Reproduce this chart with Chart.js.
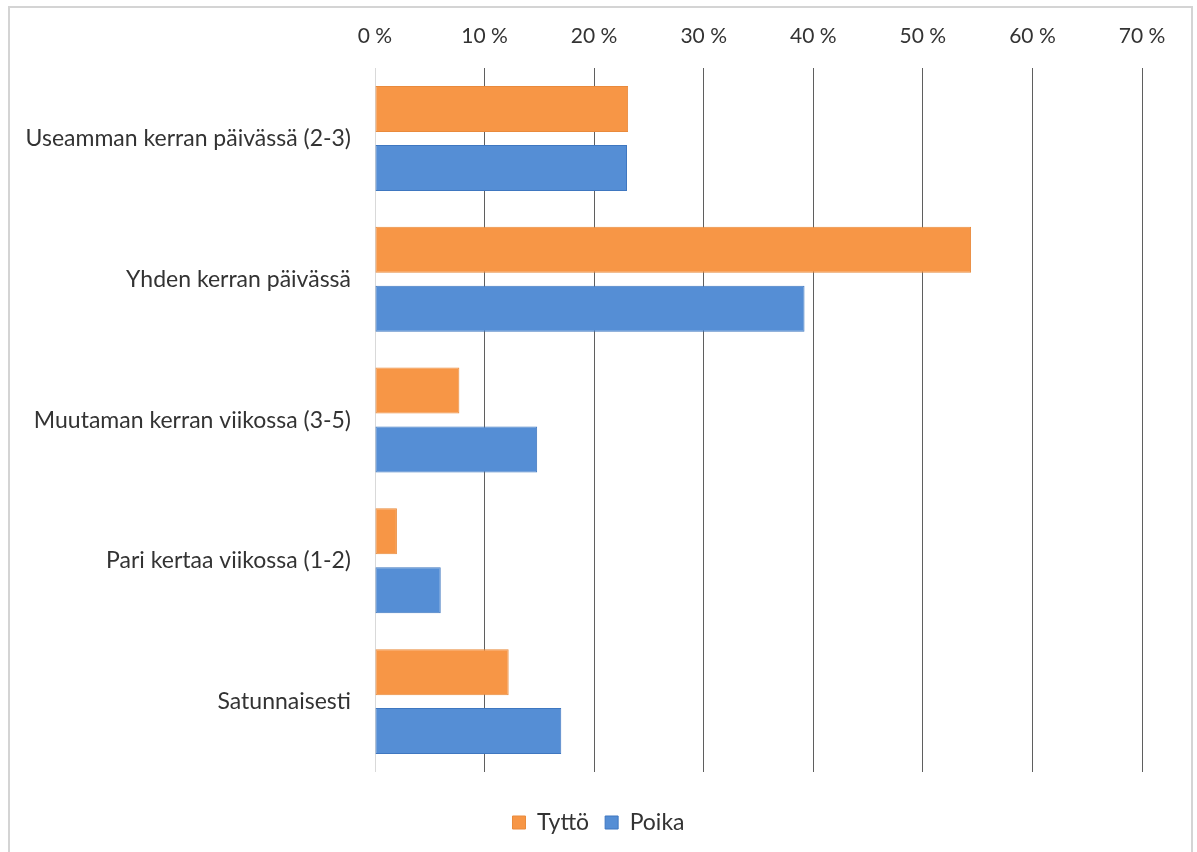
<!DOCTYPE html>
<html>
<head>
<meta charset="utf-8">
<title>Tyttö / Poika</title>
<script src="https://cdn.jsdelivr.net/npm/chart.js@4"></script>
<style>
  html, body { margin: 0; padding: 0; background: #fff; }
  #wrap { width: 1197px; height: 852px; position: relative; }
</style>
</head>
<body>
<div id="wrap"><canvas id="c" width="1197" height="852"></canvas></div>
<script>
// Frequency categories (vertical axis)
const categories = [
  'Useamman kerran päivässä (2-3)',
  'Yhden kerran päivässä',
  'Muutaman kerran viikossa (3-5)',
  'Pari kertaa viikossa (1-2)',
  'Satunnaisesti'
];
// Shares in percent
const tyttoValues = [23.1, 54.4, 7.7, 2.0, 12.2];
const poikaValues = [23.0, 39.2, 14.8, 6.0, 17.0];
// Horizontal axis ticks
const xTicks = [0, 10, 20, 30, 40, 50, 60, 70];

const FONT = 'Lato, "Liberation Sans", sans-serif';
const TEXT = '#333333';

// Light frame around the whole chart
const framePlugin = {
  id: 'frame',
  beforeDraw(chart) {
    const ctx = chart.ctx;
    ctx.save();
    ctx.fillStyle = '#ffffff';
    ctx.fillRect(0, 0, chart.width, chart.height);
    ctx.strokeStyle = '#d4d4d4';
    ctx.lineWidth = 2;
    ctx.strokeRect(9, 7, 1183, 870);
    ctx.restore();
  }
};

new Chart(document.getElementById('c'), {
  type: 'bar',
  data: {
    labels: categories,
    datasets: [
      {
        label: 'Tyttö',
        data: tyttoValues,
        backgroundColor: '#f79646',
        borderColor: '#e98a3c',
        borderWidth: 1,
        borderSkipped: false
      },
      {
        label: 'Poika',
        data: poikaValues,
        backgroundColor: '#558ed5',
        borderColor: '#3f77c0',
        borderWidth: 1,
        borderSkipped: false
      }
    ]
  },
  options: {
    indexAxis: 'y',
    responsive: false,
    animation: false,
    categoryPercentage: 0.838,
    barPercentage: 0.78,
    layout: { padding: { top: 5, right: 0, bottom: 8, left: 0 } },
    plugins: {
      legend: {
        position: 'bottom',
        title: {
          display: true,
          text: ' ',
          font: { family: FONT, size: 8 },
          padding: 6.7
        },
        labels: {
          font: { family: FONT, size: 23 },
          color: TEXT,
          boxWidth: 13,
          boxHeight: 13,
          padding: 16
        }
      },
      tooltip: { enabled: false }
    },
    scales: {
      x: {
        position: 'top',
        min: 0,
        max: 70,
        afterBuildTicks(scale) {
          scale.ticks = xTicks.map(v => ({ value: v }));
        },
        ticks: {
          callback: v => v + ' %',
          font: { family: FONT, size: 21 },
          color: TEXT,
          padding: 19
        },
        grid: {
          drawTicks: false,
          color: ctx => (ctx.tick && ctx.tick.value === 0) ? '#d9d9d9' : '#5f5f5f',
          lineWidth: 1
        },
        border: { display: false }
      },
      y: {
        afterFit(scale) { scale.width = 375; },
        ticks: {
          font: { family: FONT, size: 23 },
          color: TEXT,
          padding: 16
        },
        grid: { display: false },
        border: { display: false }
      },
      // empty margin on the right of the plot area
      yRight: {
        type: 'category',
        position: 'right',
        afterFit(scale) { scale.width = 55; },
        ticks: { display: false },
        grid: { display: false },
        border: { display: false }
      }
    }
  },
  plugins: [framePlugin]
});
</script>
</body>
</html>
